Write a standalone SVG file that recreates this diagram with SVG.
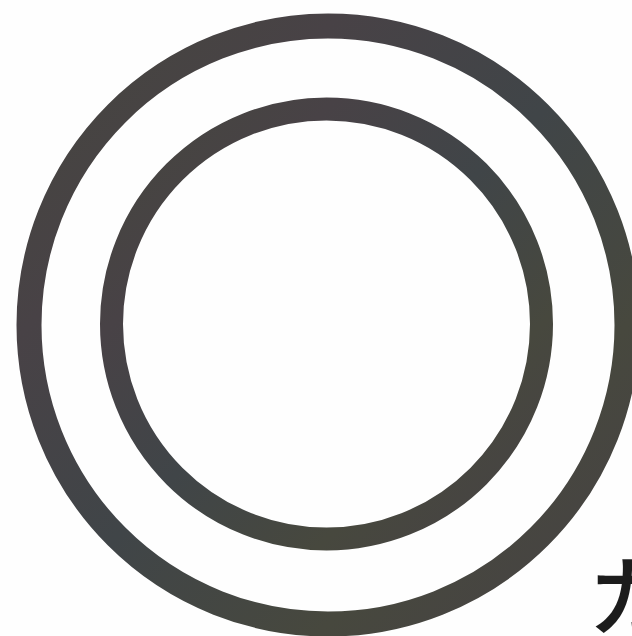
<svg xmlns="http://www.w3.org/2000/svg" width="632" height="636" viewBox="0 0 632 636">
  <defs>
    <linearGradient id="ringGrad" x1="0" y1="0" x2="1" y2="1">
      <stop offset="0" stop-color="#45463e"/>
      <stop offset="0.25" stop-color="#484246"/>
      <stop offset="0.5" stop-color="#404548"/>
      <stop offset="0.75" stop-color="#47483e"/>
      <stop offset="1" stop-color="#464145"/>
    </linearGradient>
    <style>
      .ring { fill: none; stroke: url(#ringGrad); }
      .label { font-family: "Noto Sans CJK JP", "Noto Sans", sans-serif; fill: #1c1c1c; font-weight: 500; }
    </style>
  </defs>
  <rect width="632" height="636" fill="#fefefe"/>
  <g id="outer-ring">
    <circle class="ring" cx="328" cy="325" r="299" stroke-width="25"/>
  </g>
  <g id="inner-ring">
    <circle class="ring" cx="326.5" cy="324" r="215" stroke-width="23"/>
  </g>
  <g id="label">
    <text class="label" x="587" y="629" font-size="88">カ</text>
  </g>
</svg>
